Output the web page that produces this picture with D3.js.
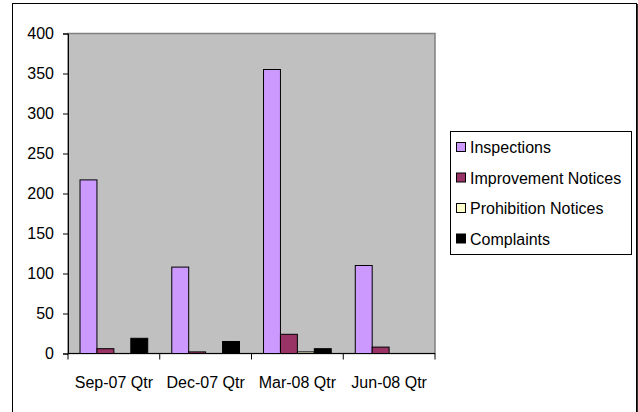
<!DOCTYPE html>
<html>
<head>
<meta charset="utf-8">
<script src="https://cdn.jsdelivr.net/npm/d3@7"></script>
<style>
  body { margin: 0; background: #fff; }
  text { font-family: "Liberation Sans", Arial, sans-serif; }
</style>
</head>
<body>
<div id="container"></div>
<script>
/* DATA */
const quarters = ["Sep-07 Qtr", "Dec-07 Qtr", "Mar-08 Qtr", "Jun-08 Qtr"];
const seriesNames = ["Inspections", "Improvement Notices", "Prohibition Notices", "Complaints"];
const inspections = [217, 108, 355, 110];
const improvementNotices = [6, 2, 24, 8];
const prohibitionNotices = [0, 0, 2, 0];
const complaints = [19, 15, 6, 0];
const yTicks = [0, 50, 100, 150, 200, 250, 300, 350, 400];

const colors = ["#CC99FF", "#993366", "#FFFFCC", "#000000"];
const seriesValues = [inspections, improvementNotices, prohibitionNotices, complaints];

/* CONSTANTS */
const width = 638;
const height = 412;
const plot = { left: 68, right: 435, top: 33.5, bottom: 353.5 };

const svg = d3.select("#container")
  .append("svg")
  .attr("width", width)
  .attr("height", height);

// outer frame
svg.append("rect")
  .attr("x", 12.5).attr("y", 3.5)
  .attr("width", 624).attr("height", 420)
  .attr("fill", "white")
  .attr("stroke", "#000");
svg.append("line")
  .attr("x1", 637.5).attr("x2", 637.5)
  .attr("y1", 4).attr("y2", height)
  .attr("stroke", "#333");

// SCALES
const x0 = d3.scaleBand()
  .domain(quarters)
  .range([plot.left, plot.right])
  .padding(0);

const x1 = d3.scaleBand()
  .domain(seriesNames)
  .range([0, x0.bandwidth()])
  .paddingInner(0)
  .paddingOuter(0.71);

const y = d3.scaleLinear()
  .domain([0, 400])
  .range([plot.bottom, plot.top]);

// plot area
svg.append("rect")
  .attr("x", plot.left).attr("y", plot.top)
  .attr("width", plot.right - plot.left)
  .attr("height", plot.bottom - plot.top)
  .attr("fill", "#C0C0C0")
  .attr("stroke", "#808080")
  .attr("stroke-width", 1.5);

// BARS
const rows = quarters.map((q, i) => ({
  q,
  vals: seriesNames.map((s, j) => ({ s, v: seriesValues[j][i], c: colors[j] }))
}));

svg.selectAll(".group")
  .data(rows)
  .join("g")
  .attr("class", "group")
  .attr("transform", d => `translate(${x0(d.q)},0)`)
  .selectAll("rect")
  .data(d => d.vals.filter(e => e.v > 0))
  .join("rect")
  .attr("x", d => x1(d.s))
  .attr("y", d => y(d.v))
  .attr("width", x1.bandwidth())
  .attr("height", d => y(0) - y(d.v))
  .attr("fill", d => d.c)
  .attr("stroke", "#000")
  .attr("stroke-width", 1);

// Y AXIS
const yAxis = d3.axisLeft(y)
  .tickValues(yTicks)
  .tickSize(5)
  .tickPadding(9);

svg.append("g")
  .attr("transform", `translate(${plot.left},0)`)
  .call(yAxis)
  .call(g => g.select(".domain").attr("stroke", "#000"))
  .call(g => g.selectAll("text")
    .attr("font-size", 16)
    .attr("fill", "#000")
    .attr("font-family", "Liberation Sans, Arial, sans-serif"));

// X AXIS (ticks at category boundaries)
const xAxisG = svg.append("g");
xAxisG.append("line")
  .attr("x1", plot.left).attr("x2", plot.right)
  .attr("y1", plot.bottom).attr("y2", plot.bottom)
  .attr("stroke", "#000");
const boundaries = quarters.map(q => x0(q)).concat([x0.range()[1]]);
xAxisG.selectAll(".xtick")
  .data(boundaries)
  .join("line")
  .attr("class", "xtick")
  .attr("x1", d => d).attr("x2", d => d)
  .attr("y1", plot.bottom).attr("y2", plot.bottom + 6)
  .attr("stroke", "#000");
xAxisG.selectAll(".xlabel")
  .data(quarters)
  .join("text")
  .attr("class", "xlabel")
  .attr("x", d => x0(d) + x0.bandwidth() / 2)
  .attr("y", 388)
  .attr("text-anchor", "middle")
  .attr("font-size", 16)
  .attr("fill", "#000")
  .text(d => d);

// LEGEND
const legend = svg.append("g");
legend.append("rect")
  .attr("x", 450.5).attr("y", 131.5)
  .attr("width", 181).attr("height", 123)
  .attr("fill", "white")
  .attr("stroke", "#000");

const items = legend.selectAll(".item")
  .data(seriesNames)
  .join("g")
  .attr("class", "item")
  .attr("transform", (d, i) => `translate(0,${147 + i * 30.5})`);

items.append("rect")
  .attr("x", 456.5).attr("y", -4.5)
  .attr("width", 9).attr("height", 9)
  .attr("fill", (d, i) => colors[i])
  .attr("stroke", "#000");

items.append("text")
  .attr("x", 470)
  .attr("y", 6)
  .attr("font-size", 16)
  .attr("fill", "#000")
  .text(d => d);
</script>
</body>
</html>
